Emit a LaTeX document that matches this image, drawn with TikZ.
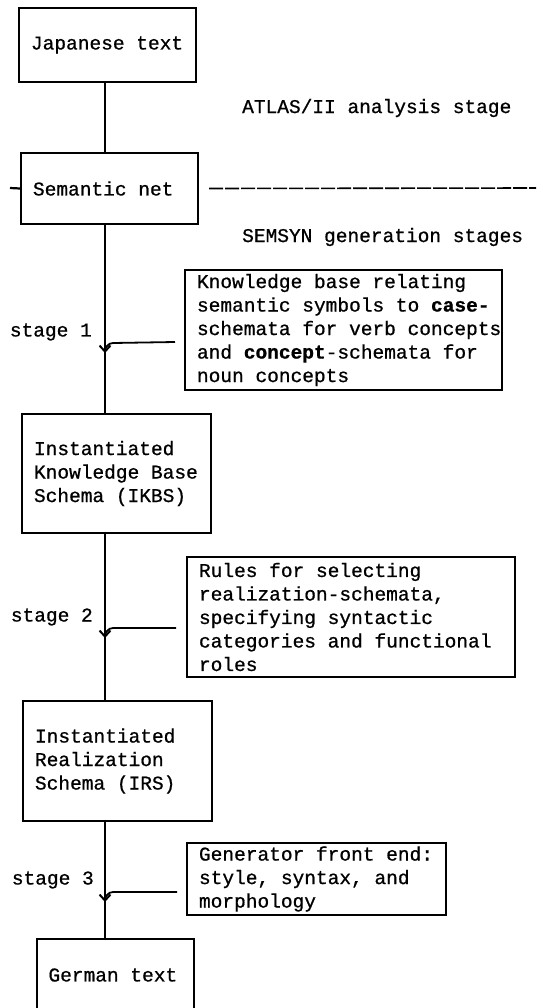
\documentclass[tikz,border=0pt]{standalone}
\usepackage{fontspec}
\setmainfont{Liberation Mono}[WordSpace={1,0,0}, FakeBold=0.8]
\usepackage{tikz}
\usetikzlibrary{arrows.meta}
\usetikzlibrary{calc}
\tikzstyle{stagebox}=[draw, line width=2pt, inner xsep=12pt, inner ysep=4pt, align=flush left, font=\fontsize{19.5}{23.5}\selectfont]
\tikzstyle{notebox}=[draw, line width=2pt, inner xsep=12pt, inner ysep=2pt, align=flush left, font=\fontsize{19.5}{23.5}\selectfont]
\tikzstyle{plain}=[inner sep=0pt, font=\fontsize{19.5}{23.5}\selectfont]
\tikzstyle{spineline}=[line width=2.2pt]
\tikzstyle{feed}=[line width=1.8pt, -{Straight Barb[length=6pt,width=11pt,line width=2pt]}]

\begin{document}
\begin{tikzpicture}[x=1pt,y=-1pt]
	\useasboundingbox (0,0) rectangle (536,1008);
	\coordinate (spine) at (105,0);
	\node[stagebox, text width=153pt, minimum height=74pt] (jp) at (107.5,45) {Japanese text};
	\node[stagebox, text width=153pt, minimum height=71pt] (sem) at (109.5,188.5) {Semantic net};
	\node[stagebox, text width=165pt, minimum height=119pt] (ikbs) at (116.5,473.5) {Instantiated\\Knowledge Base\\Schema (IKBS)};
	\node[stagebox, text width=165pt, minimum height=120pt] (irs) at (117.5,761) {Instantiated\\Realization\\Schema (IRS)};
	\node[stagebox, text width=133pt, minimum height=72pt] (de) at (115,975) {German text};
	\node[plain, anchor=west] (atlas) at (242,108) {ATLAS/II analysis stage};
	\node[plain, anchor=west] (semsyn) at (242,237) {SEMSYN generation stages};
	\coordinate (stub) at (10,188);
	\coordinate (dashend) at (536,188);
	\draw[spineline] (stub) -- (sem.west);
	\draw[line width=1.6pt, dash pattern=on 14pt off 2pt] ([xshift=10pt]sem.east) -- (dashend);
	\draw[spineline] (jp.south -| spine) -- (sem.north -| spine);
	\draw[spineline] (sem.south -| spine) -- (ikbs.north -| spine);
	\draw[spineline] (ikbs.south -| spine) -- (irs.north -| spine);
	\draw[spineline] (irs.south -| spine) -- (de.north -| spine);
	\node[notebox, text width=293pt, minimum height=120pt] (kb1) at (343.5,330) {Knowledge base relating\\semantic symbols to \textbf{case-}\\\mbox{schemata for verb concepts}\\and \textbf{concept}-schemata for\\noun concepts};
	\node[notebox, text width=304pt, minimum height=120pt] (rules2) at (351,617) {Rules for selecting\\realization-schemata,\\specifying syntactic\\categories and functional\\roles};
	\node[notebox, text width=235pt, minimum height=72pt] (gen3) at (316.5,879) {Generator front end:\\style, syntax, and\\morphology};
	\coordinate (j1) at (105,343);
	\coordinate (j2) at (105,628);
	\coordinate (j3) at (105,892);
	\node[plain, anchor=east] (s1) at (92,332) {stage 1};
	\node[plain, anchor=east] (s2) at (93,617) {stage 2};
	\node[plain, anchor=east] (s3) at (94,880) {stage 3};
	\draw[feed] ([shift={(-9pt,-12pt)}]kb1.west) -- ([xshift=8pt]j1) to[out=180,in=90] ([yshift=-10pt]j1);
	\draw[feed] ([shift={(-10pt,-11pt)}]rules2.west) -- ([xshift=8pt]j2) to[out=180,in=90] ([yshift=-10pt]j2);
	\draw[feed] ([shift={(-9pt,-13pt)}]gen3.west) -- ([xshift=8pt]j3) to[out=180,in=90] ([yshift=-10pt]j3);
\end{tikzpicture}
\end{document}
